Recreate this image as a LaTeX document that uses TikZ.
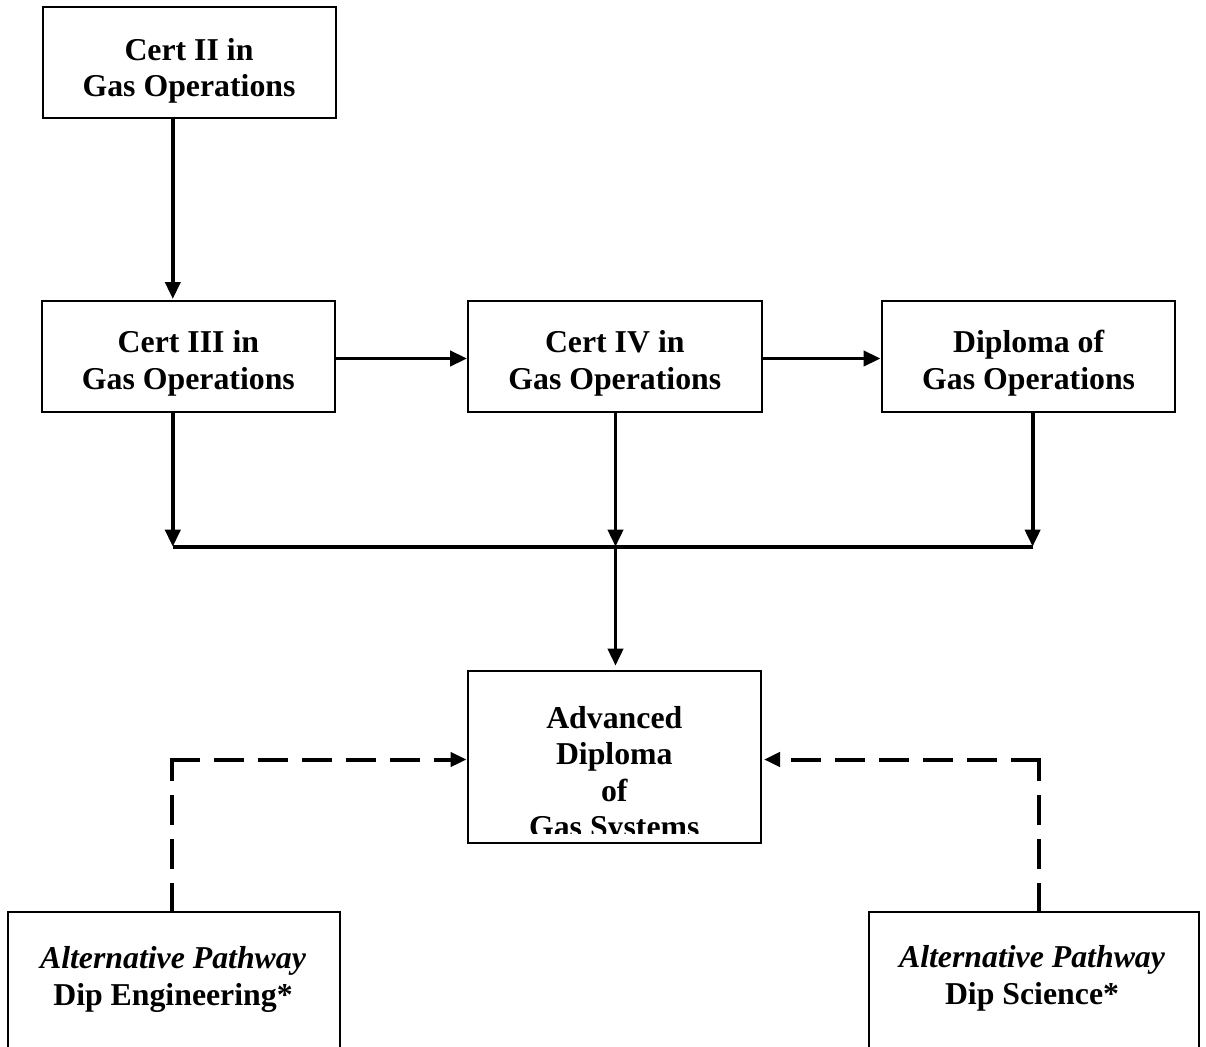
\documentclass[tikz,border=0pt]{standalone}
\usepackage{fontspec}
\setmainfont{Liberation Serif}
\usetikzlibrary{arrows.meta}
\begin{document}
\begin{tikzpicture}[x=1pt,y=-1pt,
  box/.style={draw, line width=2pt, rectangle, inner sep=0pt},
  stdbox/.style={box, minimum width=293.5pt, minimum height=111pt},
  lbl/.style={anchor=north, inner sep=0pt, align=center,
    font={\fontsize{31.8}{36.6}\selectfont\bfseries}},
  flow/.style={line width=3.8pt, -{Triangle[length=17pt,width=15pt]}},
  bus/.style={line width=4pt},
  altline/.style={line width=4pt, line cap=rect, dash pattern=on 26pt off 18pt},
  altflow/.style={altline, -{Triangle[length=16pt,width=14pt]}}]

% page frame
\clip (0,0) rectangle (1206,1046);

% qualification boxes
\node[stdbox] (c2)  at (189.25,62.5) {};
\node[stdbox] (c3)  at (188.4,356.5) {};
\node[stdbox] (c4)  at (614.85,356.5) {};
\node[stdbox] (dip) at (1028.35,356.5) {};
\node[box, minimum width=293.4pt, minimum height=172.6pt] (adv) at (614.3,757) {};
\node[box, minimum width=331.7pt, minimum height=200pt] (alt1) at (174.15,1011.7) {};
\node[box, minimum width=330pt, minimum height=200pt] (alt2) at (1034.3,1012.3) {};

% box texts
\node[lbl] (c2t)  at (189,38.1) {Cert II in\\Gas Operations};
\node[lbl] (c3t)  at (188.4,330.4) {Cert III in\\Gas Operations};
\node[lbl] (c4t)  at (614.8,330.4) {Cert IV in\\Gas Operations};
\node[lbl] (dipt) at (1028.6,330.4) {Diploma of\\Gas Operations};
\begin{scope}
  \clip (467.6,670.7) rectangle (761,833.3);
  \node[lbl] (advt) at (614.3,705.8) {Advanced\\Diploma\\of\\Gas Systems};
\end{scope}
\node[lbl] (alt1t) at (173,946.6) {{\itshape Alternative Pathway}\\Dip Engineering*};
\node[lbl] (alt2t) at (1032,945.6) {{\itshape Alternative Pathway}\\Dip Science*};

% main progression
\coordinate (bL) at (172.8,546.7);
\coordinate (bM) at (615.5,546.7);
\coordinate (bR) at (1032.6,546.7);

\draw[flow, shorten >=1pt] (c2.south -| bL) -- (c3.north -| bL);
\draw[flow] ([yshift=-2pt]c3.east) -- ([yshift=-2pt]c4.west);
\draw[flow] ([yshift=-2pt]c4.east) -- ([yshift=-2pt]dip.west);

\draw[flow] (c3.south -| bL) -- (bL);
\draw[flow] (c4.south -| bM) -- (bM);
\draw[flow] (dip.south -| bR) -- (bR);
\draw[bus] (bL) -- (bR);
\draw[flow, shorten >=4pt] (bM) -- (bM |- adv.north);

% alternative pathways
\coordinate (dL) at (172.3,759.5);
\coordinate (dR) at (1038.8,759.5);
\draw[altline] (alt1.north -| dL) -- (dL);
\draw[altflow] (dL) -- (dL -| adv.west);
\draw[altline] (alt2.north -| dR) -- (dR);
\draw[altflow, shorten >=2pt] (dR) -- (dR -| adv.east);

\end{tikzpicture}
\end{document}
